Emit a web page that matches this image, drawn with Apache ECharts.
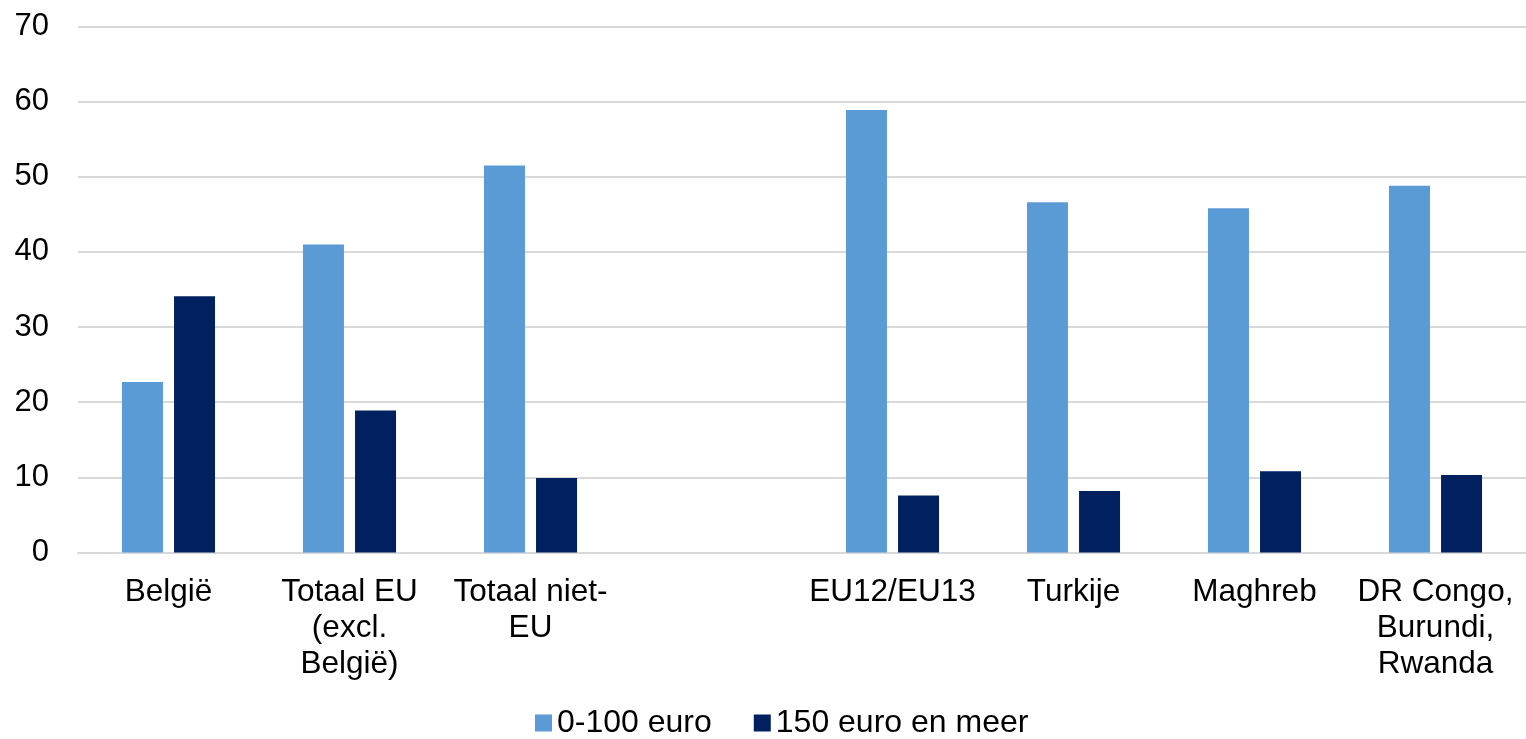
<!DOCTYPE html>
<html>
<head>
<meta charset="utf-8">
<script src="https://cdn.jsdelivr.net/npm/echarts@6/dist/echarts.min.js"></script>
<style>html,body{margin:0;padding:0;background:#fff}#c{width:1526px;height:739px}</style>
</head>
<body>
<div id="c"></div>
<script>
const categories = ["België", "Totaal EU\n(excl.\nBelgië)", "Totaal niet-\nEU", "", "EU12/EU13", "Turkije", "Maghreb", "DR Congo,\nBurundi,\nRwanda"];
const seriesNames = ["0-100 euro", "150 euro en meer"];
const low = [22.7, 41.0, 51.5, null, 58.9, 46.6, 45.8, 48.8];
const high = [34.1, 18.9, 9.9, null, 7.6, 8.2, 10.8, 10.3];
const yTicks = {min: 0, max: 70, interval: 10};

const font = 'Liberation Sans, Arial, sans-serif';
const chart = echarts.init(document.getElementById('c'));
chart.setOption({
  animation: false,
  textStyle: {fontFamily: font},
  grid: {left: 78, right: 0, top: 26.5, bottom: 186.5, containLabel: false},
  legend: {
    top: 702, left: 530, padding: 5,
    itemWidth: 17, itemHeight: 17, itemGap: 42, icon: 'rect',
    textStyle: {fontSize: 32, color: '#000', fontFamily: font},
    data: seriesNames
  },
  xAxis: {
    type: 'category', data: categories,
    axisLine: {show: true, lineStyle: {color: '#d9d9d9', width: 2}},
    axisTick: {show: false},
    axisLabel: {interval: 0, fontSize: 31.5, color: '#000', fontFamily: font, lineHeight: 36, margin: 22, align: 'center'}
  },
  yAxis: {
    type: 'value', min: yTicks.min, max: yTicks.max, interval: yTicks.interval,
    axisLine: {show: false}, axisTick: {show: false},
    splitLine: {lineStyle: {color: '#d9d9d9', width: 2}},
    axisLabel: {fontSize: 31, color: '#000', fontFamily: font, margin: 29}
  },
  series: [
    {name: seriesNames[0], type: 'bar', data: low, barWidth: 41, barGap: '27%', itemStyle: {color: '#5B9BD5'}},
    {name: seriesNames[1], type: 'bar', data: high, barWidth: 41, barGap: '27%', itemStyle: {color: '#002060'}}
  ]
});
</script>
</body>
</html>
